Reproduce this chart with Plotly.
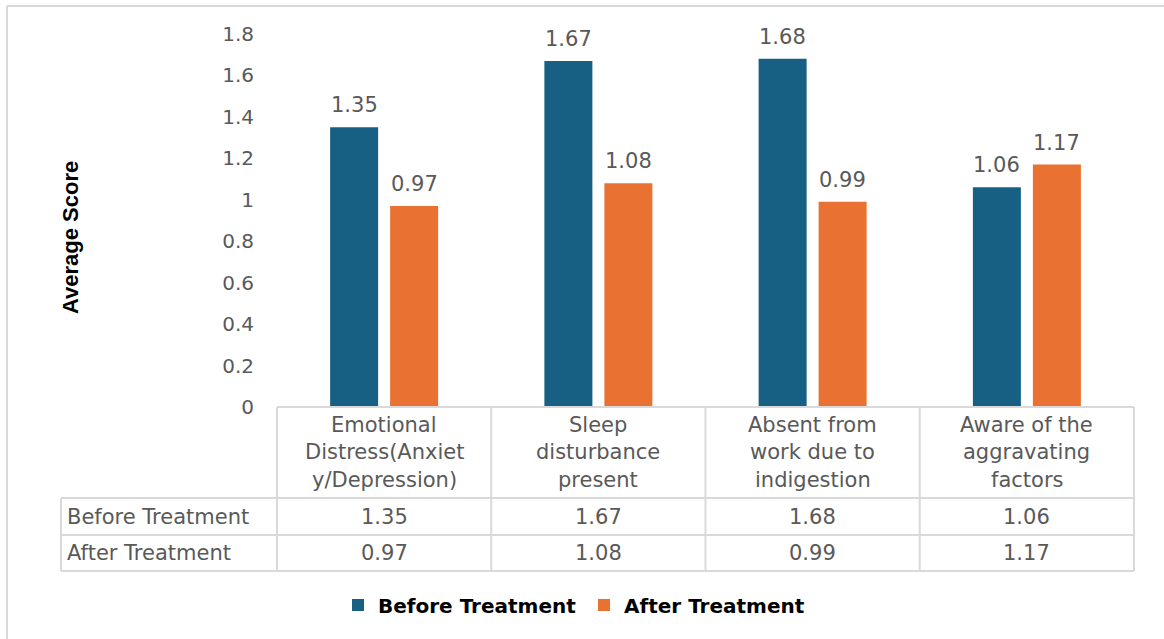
import plotly.graph_objects as go

# Data
categories = [
    "Emotional<br>Distress(Anxiet<br>y/Depression)",
    "Sleep<br>disturbance<br>present",
    "Absent from<br>work due to<br>indigestion",
    "Aware of the<br>aggravating<br>factors",
]
before_treatment = [1.35, 1.67, 1.68, 1.06]
after_treatment = [0.97, 1.08, 0.99, 1.17]
series_names = ["Before Treatment", "After Treatment"]
y_tick_values = [0, 0.2, 0.4, 0.6, 0.8, 1.0, 1.2, 1.4, 1.6, 1.8]
y_tick_labels = ["0", "0.2", "0.4", "0.6", "0.8", "1", "1.2", "1.4", "1.6", "1.8"]

# Styling
W, H = 1164, 639
BLUE = "#176083"
ORANGE = "#E97132"
GRAY_TEXT = "#595959"
GRID = "#D9D9D9"
FONT = "DejaVu Sans"
TABLE_SIZE = 21

def px_x(p):
    return p / W

def px_y(p):
    return 1 - p / H

plot_left, plot_right = 277, 1134
plot_top, plot_bottom = 34, 407
label_col_left = 61
row_lines = [498, 535, 571]
col_w = (plot_right - plot_left) / len(categories)
bar_offset = 30

fig = go.Figure()
for name, vals, color in zip(series_names, [before_treatment, after_treatment], [BLUE, ORANGE]):
    fig.add_trace(go.Bar(
        x=categories, y=vals, name=name,
        marker=dict(color=color, line=dict(width=0)),
    ))

annotations = []
# value labels above bars
for vals, shift in [(before_treatment, -bar_offset), (after_treatment, bar_offset)]:
    for cat, v in zip(categories, vals):
        annotations.append(dict(
            x=cat, y=v, xref="x", yref="y", xshift=shift, yshift=8,
            text=f"{v:.2f}", showarrow=False, yanchor="bottom",
            font=dict(family=FONT, size=21, color=GRAY_TEXT),
        ))

# data table: category header cells (one annotation per text line)
line_centers = [425, 452, 480]
for cat in categories:
    for line, yc in zip(cat.split("<br>"), line_centers):
        annotations.append(dict(
            x=cat, xref="x", y=px_y(yc), yref="paper", text=line,
            showarrow=False, yanchor="middle", xanchor="center",
            font=dict(family=FONT, size=TABLE_SIZE, color=GRAY_TEXT),
        ))

# data table: value rows
row_centers = [(row_lines[0] + row_lines[1]) / 2, (row_lines[1] + row_lines[2]) / 2]
for name, vals, yc in zip(series_names, [before_treatment, after_treatment], row_centers):
    annotations.append(dict(
        x=px_x(label_col_left + 4), xref="paper", y=px_y(yc), yref="paper",
        text=name, showarrow=False, xanchor="left", yanchor="middle",
        font=dict(family=FONT, size=TABLE_SIZE, color=GRAY_TEXT),
    ))
    for cat, v in zip(categories, vals):
        annotations.append(dict(
            x=cat, xref="x", y=px_y(yc), yref="paper", text=f"{v:.2f}",
            showarrow=False, xanchor="center", yanchor="middle",
            font=dict(family=FONT, size=TABLE_SIZE, color=GRAY_TEXT),
        ))

# y-axis title
annotations.append(dict(
    x=px_x(70), y=px_y(238), xref="paper", yref="paper", text="Average Score",
    textangle=-90, showarrow=False, xanchor="center", yanchor="middle",
    font=dict(family="Liberation Sans", size=22, color="black", weight="bold"),
))

# table grid
shapes = []
line_style = dict(color=GRID, width=2)
shapes.append(dict(type="line", xref="paper", yref="paper",
                   x0=px_x(plot_left), x1=px_x(plot_right),
                   y0=px_y(plot_bottom), y1=px_y(plot_bottom), line=line_style))
for yl in row_lines:
    shapes.append(dict(type="line", xref="paper", yref="paper",
                       x0=px_x(label_col_left), x1=px_x(plot_right),
                       y0=px_y(yl), y1=px_y(yl), line=line_style))
for i in range(len(categories) + 1):
    xl = plot_left + i * col_w
    shapes.append(dict(type="line", xref="paper", yref="paper",
                       x0=px_x(xl), x1=px_x(xl), y0=px_y(plot_bottom), y1=px_y(row_lines[-1]),
                       line=line_style))
shapes.append(dict(type="line", xref="paper", yref="paper",
                   x0=px_x(label_col_left), x1=px_x(label_col_left),
                   y0=px_y(row_lines[0]), y1=px_y(row_lines[-1]), line=line_style))
# chart frame
shapes.append(dict(type="line", xref="paper", yref="paper",
                   x0=px_x(7), x1=1.01, y0=px_y(6), y1=px_y(6), line=line_style))
shapes.append(dict(type="line", xref="paper", yref="paper",
                   x0=px_x(7), x1=px_x(7), y0=px_y(6), y1=-0.01, line=line_style))

fig.update_layout(
    width=W, height=H,
    margin=dict(l=0, r=0, t=0, b=0, autoexpand=False),
    paper_bgcolor="white", plot_bgcolor="white",
    barmode="group", bargap=1 - 120 / col_w, bargroupgap=0.2,
    xaxis=dict(domain=[px_x(plot_left), px_x(plot_right)], range=[-0.5, 3.5],
               showticklabels=False, showgrid=False, zeroline=False, showline=False,
               automargin=False),
    yaxis=dict(domain=[px_y(plot_bottom), px_y(plot_top)], range=[0, 1.8],
               tickvals=y_tick_values, ticktext=y_tick_labels,
               showgrid=False, zeroline=False, showline=False, automargin=False,
               ticks="", ticklabelstandoff=22,
               tickfont=dict(family=FONT, size=20, color=GRAY_TEXT)),
    showlegend=True,
    legend=dict(orientation="h", x=px_x(338), xanchor="left", y=px_y(605), yanchor="middle",
                font=dict(family=FONT, size=20, color="black", weight="bold"),
                entrywidth=201, itemclick=False),
    annotations=annotations,
    shapes=shapes,
)

fig.write_html("out.html")
